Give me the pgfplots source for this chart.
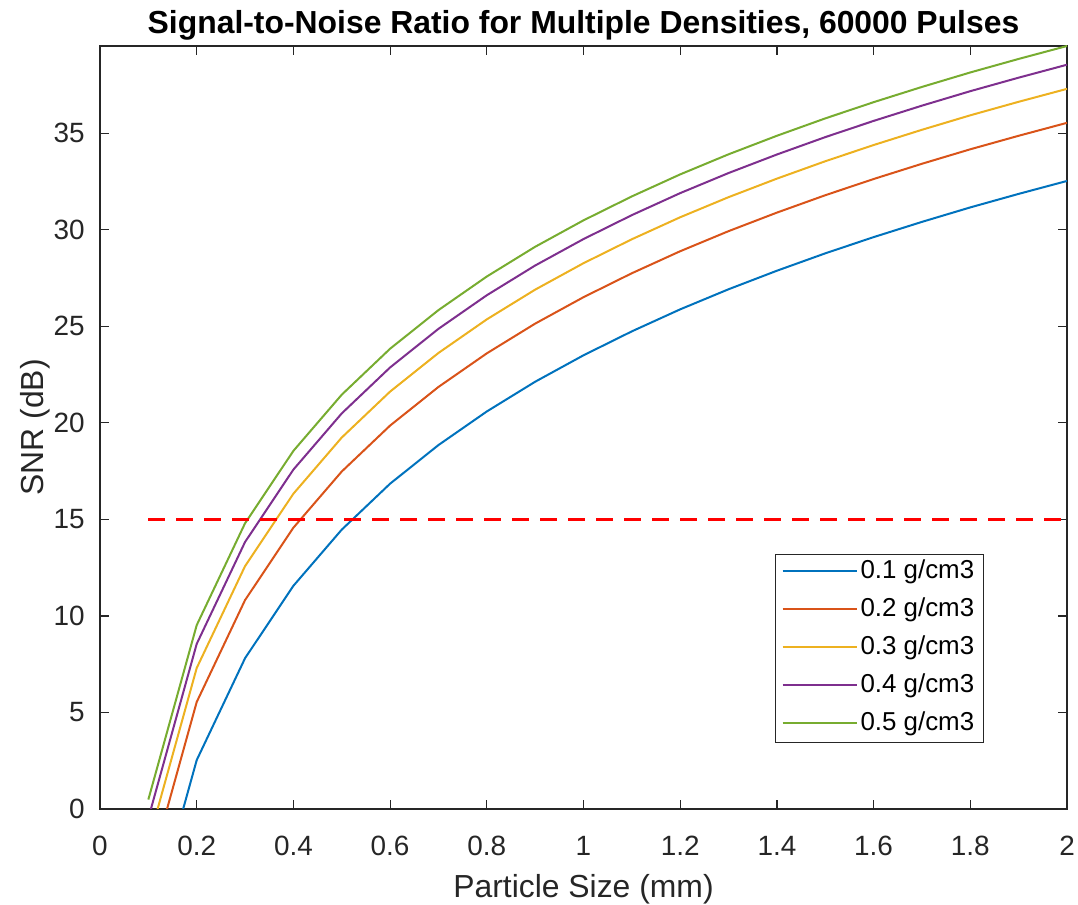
\documentclass[border=0pt]{standalone}
\usepackage{fontspec}
\setmainfont{Liberation Sans}
\usepackage{pgfplots}
\pgfplotsset{compat=1.18}
\definecolor{c1}{rgb}{0,0.447,0.741}
\definecolor{c2}{rgb}{0.850,0.325,0.098}
\definecolor{c3}{rgb}{0.929,0.694,0.125}
\definecolor{c4}{rgb}{0.494,0.184,0.556}
\definecolor{c5}{rgb}{0.466,0.674,0.188}
\definecolor{axgray}{rgb}{0.15,0.15,0.15}
\begin{document}
\begin{tikzpicture}
\begin{axis}[
  scale only axis, width=483.5bp, height=381.5bp,
  xmin=0, xmax=2, ymin=0, ymax=39.52,
  xtick={0,0.2,0.4,0.6,0.8,1,1.2,1.4,1.6,1.8,2},
  xticklabels={0,0.2,0.4,0.6,0.8,1,1.2,1.4,1.6,1.8,2},
  ytick={0,5,10,15,20,25,30,35},
  tick align=inside, major tick length=4.5bp,
  axis line style={draw=axgray, line width=0.6bp},
  every tick/.style={draw=axgray, line width=0.6bp},
  /pgf/number format/assume math mode=true,
  ticklabel style={font=\fontsize{14}{16}\selectfont, text=axgray},
  xticklabel style={anchor=base, yshift=-23bp},
  yticklabel style={anchor=east, inner sep=0pt, xshift=-7.5bp},
  every axis title shift=0pt,
  title={Signal-to-Noise Ratio for Multiple Densities, 60000 Pulses},
  title style={font=\bfseries\fontsize{16}{19}\selectfont, at={(axis description cs:0.5,1.017)}, anchor=base, yshift=0pt},
  xlabel={Particle Size (mm)},
  ylabel={SNR (dB)},
  xlabel style={font=\fontsize{16}{19}\selectfont, text=axgray, at={(axis description cs:0.5,-0.1166)}, anchor=base},
  ylabel style={font=\fontsize{16}{19}\selectfont, text=axgray, at={(axis description cs:-0.0589,0.5)}, anchor=base, rotate=0},
  legend style={at={(axis description cs:0.914,0.0865)}, anchor=south east,
    draw=axgray, line width=0.6bp, fill=white, font=\fontsize{13}{15}\selectfont,
    inner xsep=3bp, inner ysep=2.75bp, row sep=6.5bp, column sep=0bp,
    nodes={inner xsep=1.5bp, inner ysep=0pt, text height=9.5bp, text depth=3bp}},
  legend cell align=left,
  legend image code/.code={\draw[#1,line width=1bp] (0bp,0.5bp) -- (37bp,0.5bp);},
  every axis plot/.append style={line width=1bp},
]
\addplot[c1] coordinates {
(0.1,-6.50) (0.2,2.53) (0.3,7.81) (0.4,11.56) (0.5,14.47) (0.6,16.85) (0.7,18.85)
(0.8,20.59) (0.9,22.13) (1.0,23.50) (1.1,24.74) (1.2,25.88) (1.3,26.92) (1.4,27.88)
(1.5,28.78) (1.6,29.62) (1.7,30.41) (1.8,31.16) (1.9,31.86) (2.0,32.53)};
\addlegendentry{0.1 g/cm3}
\addplot[c2] coordinates {
(0.1,-3.49) (0.2,5.54) (0.3,10.82) (0.4,14.57) (0.5,17.48) (0.6,19.86) (0.7,21.86)
(0.8,23.60) (0.9,25.14) (1.0,26.51) (1.1,27.75) (1.2,28.89) (1.3,29.93) (1.4,30.89)
(1.5,31.79) (1.6,32.63) (1.7,33.42) (1.8,34.17) (1.9,34.87) (2.0,35.54)};
\addlegendentry{0.2 g/cm3}
\addplot[c3] coordinates {
(0.1,-1.73) (0.2,7.30) (0.3,12.58) (0.4,16.33) (0.5,19.24) (0.6,21.62) (0.7,23.62)
(0.8,25.36) (0.9,26.90) (1.0,28.27) (1.1,29.51) (1.2,30.65) (1.3,31.69) (1.4,32.65)
(1.5,33.55) (1.6,34.39) (1.7,35.18) (1.8,35.93) (1.9,36.63) (2.0,37.30)};
\addlegendentry{0.3 g/cm3}
\addplot[c4] coordinates {
(0.1,-0.48) (0.2,8.55) (0.3,13.83) (0.4,17.58) (0.5,20.49) (0.6,22.87) (0.7,24.87)
(0.8,26.61) (0.9,28.15) (1.0,29.52) (1.1,30.76) (1.2,31.90) (1.3,32.94) (1.4,33.90)
(1.5,34.80) (1.6,35.64) (1.7,36.43) (1.8,37.18) (1.9,37.88) (2.0,38.55)};
\addlegendentry{0.4 g/cm3}
\addplot[c5] coordinates {
(0.1,0.49) (0.2,9.52) (0.3,14.80) (0.4,18.55) (0.5,21.46) (0.6,23.84) (0.7,25.84)
(0.8,27.58) (0.9,29.12) (1.0,30.49) (1.1,31.73) (1.2,32.87) (1.3,33.91) (1.4,34.87)
(1.5,35.77) (1.6,36.61) (1.7,37.40) (1.8,38.15) (1.9,38.85) (2.0,39.52)};
\addlegendentry{0.5 g/cm3}
\addplot[red, line width=1.3bp, dash pattern=on 8.5bp off 5.5bp, forget plot] coordinates {(0.1,15) (2,15)};
\end{axis}
\pgfresetboundingbox
\path[use as bounding box] ([xshift=-50bp,yshift=-48bp]current axis.south west) rectangle ([xshift=5.5bp,yshift=23bp]current axis.north east);
\end{tikzpicture}
\end{document}
